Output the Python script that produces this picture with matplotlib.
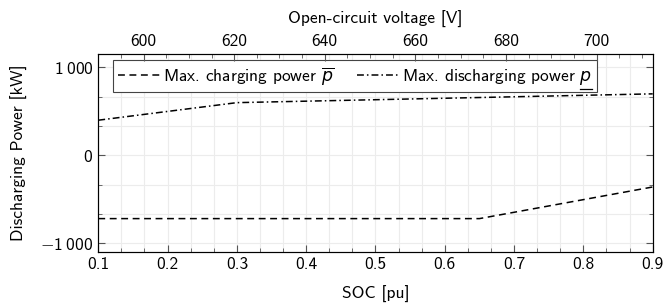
import numpy as np
import matplotlib
matplotlib.use("Agg")
import matplotlib.pyplot as plt
from matplotlib.lines import Line2D
from matplotlib.ticker import MultipleLocator, FuncFormatter

plt.rcParams['font.family'] = 'cmss10'
plt.rcParams['mathtext.fontset'] = 'custom'
plt.rcParams['mathtext.rm'] = 'cmss10'
plt.rcParams['mathtext.sf'] = 'cmss10'
plt.rcParams['mathtext.it'] = 'DejaVu Sans:italic'
plt.rcParams['mathtext.fallback'] = 'cm'
plt.rcParams['axes.unicode_minus'] = False

FS = 12.5

# data
soc_charge = [0.1, 0.65, 0.9]
p_charge = [-720, -720, -360]
soc_discharge = [0.1, 0.2, 0.3, 0.6, 0.9]
p_discharge = [400, 500, 600, 650, 700]
voltage_lim = (590, 712.4)

fig = plt.figure(figsize=(6.65, 3.06), dpi=100)
ax = fig.add_axes([0.1478, 0.1765, 0.9815 - 0.1478, 0.8225 - 0.1765])

ax.plot(soc_charge, p_charge, color='black', lw=1.1, ls=(0, (4.5, 3)),
        label=r'Max. charging power $\overline{p}$')
ax.plot(soc_discharge, p_discharge, color='black', lw=1.1, ls=(0, (4.5, 2, 1, 2)),
        label=r'Max. discharging power $p$')

ax.set_xlim(0.1, 0.9)
ax.set_ylim(-1100, 1150)
ax.xaxis.set_major_locator(MultipleLocator(0.1))
ax.xaxis.set_minor_locator(MultipleLocator(0.1 / 3))
ax.yaxis.set_major_locator(MultipleLocator(1000))
ax.yaxis.set_minor_locator(MultipleLocator(1000 / 3))
ax.xaxis.set_major_formatter(FuncFormatter(lambda v, p: f'{v:.1f}'))


def kfmt(v, p):
    s = f'{abs(int(round(v))):,}'.replace(',', r'\:')
    if v < 0:
        s = '-' + s
    return r'$\mathrm{' + s + '}$'


ax.yaxis.set_major_formatter(FuncFormatter(kfmt))

ax.grid(which='both', color='#ececec', lw=0.8)
ax.set_axisbelow(True)
ax.tick_params(which='both', direction='in', top=False, right=True, labelsize=FS,
               color='#555555')
ax.tick_params(which='major', length=5)
ax.tick_params(which='minor', length=3)
for s in ax.spines.values():
    s.set_color('#333333')

ax.set_xlabel('SOC [pu]', fontsize=FS, labelpad=10)
ax.set_ylabel('Discharging Power [kW]', fontsize=FS, labelpad=9)

top = ax.twiny()
top.set_xlim(*voltage_lim)
top.xaxis.set_major_locator(MultipleLocator(20))
top.xaxis.set_minor_locator(MultipleLocator(5))
top.tick_params(which='both', direction='in', labelsize=FS, color='#555555')
top.tick_params(which='major', length=5)
top.tick_params(which='minor', length=3)
top.set_xlabel('Open-circuit voltage [V]', fontsize=FS, labelpad=8)

leg = ax.legend(loc='upper left', bbox_to_anchor=(0.026, 0.972), ncol=2,
                fontsize=FS, frameon=True, fancybox=False, framealpha=1,
                edgecolor='#444444', handlelength=2.4, handletextpad=0.2,
                columnspacing=1.3, borderpad=0.3, borderaxespad=0)
leg.get_frame().set_linewidth(0.8)

# underline the p of the second legend entry
fig.canvas.draw()
r = fig.canvas.get_renderer()
bb = leg.get_texts()[1].get_window_extent(r)
tmp = fig.text(0, 0, r'$p$', fontsize=FS)
pw = tmp.get_window_extent(r).width
tmp.remove()
fig.add_artist(Line2D([bb.x1 - pw, bb.x1], [bb.y0 - 1.5, bb.y0 - 1.5],
                      transform=None, color='black', lw=0.9))

fig.savefig('out.png', dpi=100)
